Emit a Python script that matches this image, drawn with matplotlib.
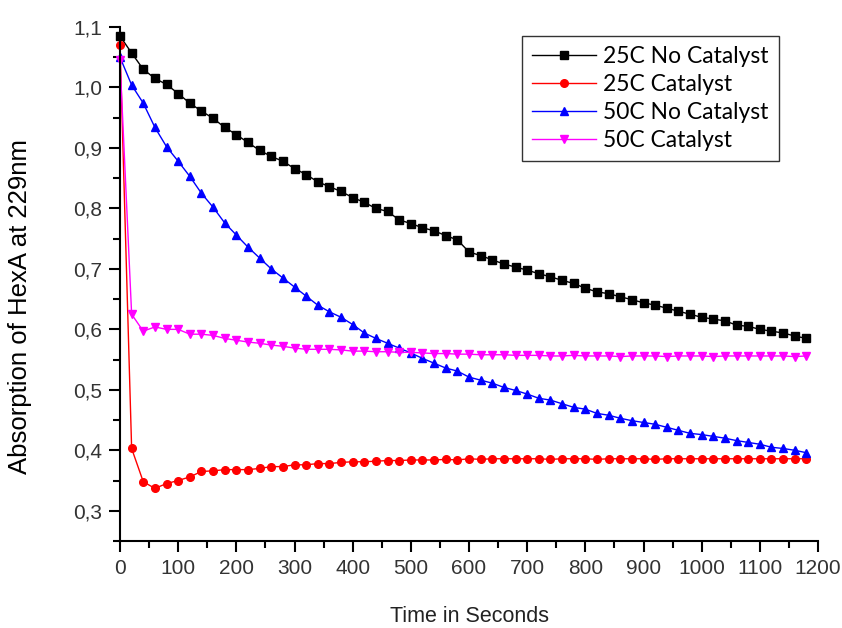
import matplotlib.pyplot as plt
import numpy as np
from matplotlib.ticker import MultipleLocator, FuncFormatter

# time axis, one reading every 20 s
time_s = np.arange(0, 1200, 20)

no_cat_25 = [1.085, 1.057, 1.030, 1.015, 1.005, 0.990, 0.974, 0.961, 0.949, 0.934,
             0.922, 0.909, 0.896, 0.886, 0.878, 0.866, 0.856, 0.844, 0.836, 0.828,
             0.818, 0.810, 0.800, 0.795, 0.781, 0.775, 0.768, 0.763, 0.755, 0.748,
             0.728, 0.722, 0.715, 0.708, 0.703, 0.698, 0.692, 0.687, 0.681, 0.676,
             0.668, 0.662, 0.659, 0.654, 0.649, 0.644, 0.640, 0.635, 0.630, 0.625,
             0.620, 0.617, 0.614, 0.607, 0.605, 0.600, 0.597, 0.594, 0.589, 0.585]

cat_25 = [1.070, 0.403, 0.348, 0.337, 0.345, 0.350, 0.356, 0.365, 0.366, 0.368,
          0.368, 0.368, 0.370, 0.373, 0.373, 0.376, 0.376, 0.378, 0.378, 0.380,
          0.381, 0.381, 0.382, 0.383, 0.383, 0.384, 0.384, 0.384, 0.385, 0.384,
          0.386, 0.385, 0.386, 0.386, 0.386, 0.386, 0.386, 0.385, 0.386, 0.386,
          0.386, 0.385, 0.386, 0.386, 0.386, 0.386, 0.385, 0.386, 0.386, 0.386,
          0.386, 0.386, 0.386, 0.386, 0.386, 0.386, 0.386, 0.386, 0.386, 0.386]

no_cat_50 = [1.050, 1.004, 0.974, 0.934, 0.902, 0.878, 0.853, 0.825, 0.802, 0.776,
             0.756, 0.736, 0.718, 0.700, 0.685, 0.670, 0.655, 0.640, 0.629, 0.620,
             0.608, 0.594, 0.585, 0.577, 0.569, 0.561, 0.552, 0.544, 0.536, 0.531,
             0.521, 0.516, 0.511, 0.504, 0.499, 0.493, 0.486, 0.483, 0.477, 0.471,
             0.468, 0.461, 0.458, 0.453, 0.449, 0.446, 0.443, 0.438, 0.433, 0.428,
             0.426, 0.423, 0.420, 0.416, 0.413, 0.410, 0.405, 0.403, 0.400, 0.396]

cat_50 = [1.045, 0.625, 0.597, 0.604, 0.600, 0.600, 0.592, 0.592, 0.590, 0.585,
          0.582, 0.579, 0.577, 0.574, 0.572, 0.569, 0.567, 0.567, 0.567, 0.566,
          0.564, 0.564, 0.563, 0.563, 0.562, 0.562, 0.561, 0.560, 0.560, 0.559,
          0.559, 0.558, 0.558, 0.558, 0.557, 0.557, 0.557, 0.556, 0.556, 0.557,
          0.556, 0.556, 0.556, 0.555, 0.556, 0.556, 0.556, 0.555, 0.556, 0.556,
          0.556, 0.555, 0.556, 0.556, 0.556, 0.556, 0.556, 0.556, 0.555, 0.556]

series = [
    ("25C No Catalyst", no_cat_25, "black", "s"),
    ("25C Catalyst", cat_25, "#ff0000", "o"),
    ("50C No Catalyst", no_cat_50, "#0000ff", "^"),
    ("50C Catalyst", cat_50, "#ff00ff", "v"),
]

plt.rcParams['font.family'] = ['Liberation Sans', 'DejaVu Sans']

fig = plt.figure(figsize=(8.42, 6.28), dpi=100)
ax = fig.add_axes([120 / 842, 1 - 541 / 628, 698 / 842, 514 / 628])

for label, values, color, marker in series:
    ax.plot(time_s, values, marker=marker, color=color, label=label,
            linewidth=1.0, markersize=5.5, clip_on=False)

ax.set_xlim(0, 1200)
ax.set_ylim(0.25, 1.1)
ax.xaxis.set_major_locator(MultipleLocator(100))
ax.xaxis.set_minor_locator(MultipleLocator(50))
ax.yaxis.set_major_locator(MultipleLocator(0.1))
ax.yaxis.set_minor_locator(MultipleLocator(0.05))
ax.yaxis.set_major_formatter(FuncFormatter(lambda v, p: f"{v:.1f}".replace('.', ',')))

ax.spines['top'].set_visible(False)
ax.spines['right'].set_visible(False)
ax.spines['left'].set_linewidth(1.5)
ax.spines['bottom'].set_linewidth(1.5)
ax.tick_params(which='major', direction='out', length=8, width=1.5,
               labelsize=15, labelcolor='#333333', pad=5)
ax.tick_params(which='minor', direction='out', length=5, width=1.5)

ax.set_xlabel("Time in Seconds", fontsize=15.5, color='#222222', labelpad=20)
ax.set_ylabel("Absorption of HexA at 229nm", fontsize=18.5, color='black')
ax.yaxis.set_label_coords(-0.126, 0.457)

leg = ax.legend(loc='upper right', bbox_to_anchor=(659 / 698, 1 - 9 / 514),
                prop={'family': 'Lato', 'size': 16.5},
                frameon=True, fancybox=False, handlelength=2.8,
                borderpad=0.45, labelspacing=0.3, handletextpad=0.3,
                borderaxespad=0)
leg.get_frame().set_edgecolor('black')
leg.get_frame().set_linewidth(1.0)

plt.savefig("out.png", dpi=100)
